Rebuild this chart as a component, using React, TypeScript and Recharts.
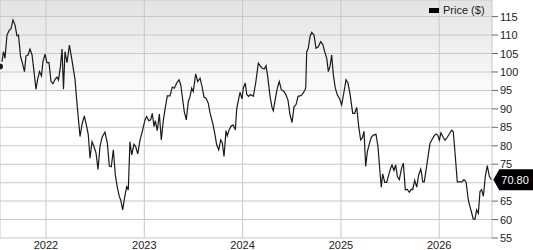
import React from "react";
import {
  LineChart,
  Line,
  XAxis,
  YAxis,
  ReferenceArea,
  ReferenceLine,
  ReferenceDot,
  Legend,
} from "recharts";

// time as decimal years
const dates = [
  2021.532, 2021.552, 2021.568, 2021.583, 2021.603, 2021.624, 2021.644, 2021.664, 2021.685, 2021.705,
  2021.72, 2021.741, 2021.756, 2021.781, 2021.796, 2021.817, 2021.837, 2021.858, 2021.878, 2021.898,
  2021.913, 2021.934, 2021.954, 2021.969, 2021.99, 2022.01, 2022.03, 2022.051, 2022.071, 2022.092,
  2022.112, 2022.127, 2022.147, 2022.163, 2022.178, 2022.193, 2022.214, 2022.238, 2022.261, 2022.295,
  2022.318, 2022.346, 2022.369, 2022.39, 2022.414, 2022.43, 2022.448, 2022.468, 2022.488, 2022.509,
  2022.529, 2022.549, 2022.57, 2022.6, 2022.624, 2022.644, 2022.664, 2022.685, 2022.705, 2022.725,
  2022.746, 2022.76, 2022.78, 2022.801, 2022.821, 2022.837, 2022.854, 2022.872, 2022.895, 2022.912,
  2022.933, 2022.956, 2022.974, 2023.007, 2023.024, 2023.045, 2023.065, 2023.081, 2023.099, 2023.112,
  2023.132, 2023.153, 2023.173, 2023.193, 2023.214, 2023.234, 2023.261, 2023.285, 2023.305, 2023.33,
  2023.353, 2023.37, 2023.391, 2023.407, 2023.427, 2023.448, 2023.465, 2023.482, 2023.498, 2023.523,
  2023.543, 2023.567, 2023.587, 2023.607, 2023.628, 2023.651, 2023.668, 2023.696, 2023.716, 2023.737,
  2023.757, 2023.777, 2023.793, 2023.811, 2023.831, 2023.844, 2023.865, 2023.885, 2023.905, 2023.926,
  2023.94, 2023.96, 2023.974, 2023.994, 2024.007, 2024.027, 2024.042, 2024.062, 2024.082, 2024.109,
  2024.133, 2024.16, 2024.177, 2024.2, 2024.221, 2024.238, 2024.255, 2024.279, 2024.299, 2024.312,
  2024.333, 2024.353, 2024.373, 2024.394, 2024.421, 2024.441, 2024.462, 2024.482, 2024.503, 2024.523,
  2024.543, 2024.564, 2024.584, 2024.604, 2024.625, 2024.642, 2024.652, 2024.668, 2024.686, 2024.703,
  2024.726, 2024.747, 2024.77, 2024.794, 2024.815, 2024.835, 2024.856, 2024.872, 2024.889, 2024.906,
  2024.923, 2024.943, 2024.963, 2024.984, 2025.008, 2025.032, 2025.052, 2025.072, 2025.093, 2025.12,
  2025.14, 2025.161, 2025.181, 2025.201, 2025.218, 2025.235, 2025.252, 2025.269, 2025.289, 2025.309,
  2025.33, 2025.357, 2025.377, 2025.398, 2025.411, 2025.425, 2025.446, 2025.466, 2025.486, 2025.507,
  2025.52, 2025.54, 2025.557, 2025.574, 2025.594, 2025.618, 2025.635, 2025.655, 2025.675, 2025.696,
  2025.716, 2025.73, 2025.751, 2025.771, 2025.791, 2025.812, 2025.822, 2025.832, 2025.848, 2025.866,
  2025.886, 2025.906, 2025.927, 2025.947, 2025.967, 2025.985, 2026.001, 2026.018, 2026.036, 2026.059,
  2026.082, 2026.103, 2026.127, 2026.143, 2026.164, 2026.184, 2026.204, 2026.229, 2026.252, 2026.273,
  2026.296, 2026.313, 2026.331, 2026.347, 2026.364, 2026.381, 2026.398, 2026.415, 2026.432, 2026.449,
  2026.469, 2026.489, 2026.51, 2026.53,
];

const prices = [
  101.5, 102.8, 105.5, 103.7, 110.0, 111.2, 111.7, 114.1, 112.7, 109.8,
  110.0, 104.2, 102.8, 100.1, 104.3, 104.6, 106.2, 104.6, 100.1, 95.3,
  97.8, 100.1, 98.9, 102.8, 104.8, 102.5, 102.6, 97.4, 96.8, 98.0,
  98.6, 97.8, 101.5, 106.2, 95.3, 105.5, 102.5, 107.3, 103.7, 98.0,
  90.6, 82.5, 86.1, 88.1, 85.2, 83.0, 76.6, 81.1, 79.8, 78.0,
  73.6, 79.8, 82.3, 83.7, 80.7, 74.5, 74.3, 78.9, 72.1, 68.8,
  66.2, 65.3, 62.6, 66.2, 68.9, 68.0, 81.1, 77.5, 80.4, 79.8,
  77.8, 81.5, 83.3, 87.0, 87.9, 86.8, 87.0, 88.8, 85.2, 86.8,
  84.1, 88.6, 81.6, 86.8, 90.4, 93.5, 93.5, 95.9, 95.6, 97.0,
  97.9, 96.6, 92.4, 89.2, 87.0, 92.0, 93.3, 95.6, 94.7, 99.5,
  97.4, 98.3, 96.1, 93.2, 92.9, 91.5, 89.0, 86.1, 83.4, 80.2,
  78.9, 81.6, 80.9, 77.1, 84.1, 82.7, 84.5, 85.4, 85.6, 84.3,
  90.0, 92.7, 94.5, 92.7, 95.6, 97.0, 93.9, 93.4, 93.9, 93.4,
  97.0, 102.4, 101.7, 101.0, 100.8, 101.7, 98.8, 93.4, 90.4, 89.5,
  92.7, 95.6, 97.4, 95.2, 94.7, 93.8, 92.3, 88.4, 86.3, 90.6,
  91.1, 93.4, 93.5, 93.8, 94.7, 95.6, 105.5, 106.4, 109.6, 110.7,
  110.0, 106.4, 106.8, 108.2, 107.5, 105.5, 103.7, 100.1, 101.5, 104.6,
  99.2, 95.6, 93.8, 92.9, 91.1, 94.7, 97.9, 97.0, 94.0, 88.8,
  88.8, 90.4, 85.2, 81.6, 82.1, 83.9, 74.4, 78.4, 80.5, 82.3,
  82.9, 83.1, 79.8, 72.6, 68.8, 72.4, 70.1, 70.1, 72.1, 74.0,
  74.8, 73.3, 74.8, 71.7, 70.8, 74.0, 75.3, 68.1, 68.2, 67.4,
  68.2, 68.1, 70.6, 68.8, 72.1, 73.7, 72.3, 70.2, 70.2, 73.4,
  77.0, 80.6, 81.7, 82.6, 83.2, 82.9, 81.5, 83.5, 82.5, 81.5,
  82.3, 83.2, 84.2, 83.8, 77.0, 70.2, 70.2, 70.2, 70.8, 70.2,
  65.3, 63.5, 61.7, 60.1, 60.1, 62.6, 61.7, 67.6, 68.1, 66.3,
  71.7, 74.6, 71.7, 70.8,
];

const yearTicks = [2022, 2023, 2024, 2025, 2026];
const priceTicks = [55, 60, 65, 70, 75, 80, 85, 90, 95, 100, 105, 110, 115];

const xDomain = [2021.532, 2026.537];
const yDomain = [55, 119.5];

const data = dates.map((t, i) => ({ t, price: prices[i] }));
const last = data[data.length - 1];

const GRID = "#c8c8c8";

// thin rules drawn as filled 1px strips
const Rule = ({ x1, y1, x2, y2 }) => {
  const horizontal = Math.abs(y2 - y1) < Math.abs(x2 - x1);
  const d = horizontal
    ? `M${Math.min(x1, x2)},${y1 - 0.5}H${Math.max(x1, x2)}V${y1 + 0.5}H${Math.min(x1, x2)}Z`
    : `M${x1 - 0.5},${Math.min(y1, y2)}V${Math.max(y1, y2)}H${x1 + 0.5}V${Math.min(y1, y2)}Z`;
  return <path d={d} fill={GRID} stroke="none" />;
};

const PriceTag = ({ cx, cy }) => {
  const x = cx + 2;
  return (
    <g>
      <path
        d={`M${x},${cy}L${x + 6},${cy - 10.5}L${x + 42},${cy - 10.5}L${x + 42},${cy + 10.5}L${x + 6},${cy + 10.5}Z`}
        fill="#000"
      />
      <text x={x + 8} y={cy + 4} fill="#fff" fontSize={11}>
        {last.price.toFixed(2)}
      </text>
    </g>
  );
};

// the price tag hides the axis label it sits on
const PriceTick = ({ x, y, payload }) => {
  if (Math.abs(payload.value - last.price) < 2.5) return null;
  return (
    <g>
      <path d={`M${x - 8},${y - 0.5}h6v1h-6Z`} fill="#666" />
      <text x={x} y={y} dy={4} fontSize={11} fill="#222" textAnchor="start">
        {payload.value}
      </text>
    </g>
  );
};

const LegendBox = () => (
  <div style={{ display: "flex", alignItems: "center", fontSize: 11, color: "#222" }}>
    <span style={{ width: 10, height: 5, background: "#000", marginRight: 4 }} />
    <span>Price ($)</span>
  </div>
);

export default function App() {
  return (
    <div
      style={{
        position: "absolute",
        left: 0,
        top: 0,
        fontFamily: "'Liberation Sans', Arial, sans-serif",
      }}
    >
      <svg width={0} height={0} style={{ position: "absolute" }}>
        <defs>
          <linearGradient id="plotBg" x1="0" y1="0" x2="0" y2="1">
            <stop offset="0%" stopColor="#000" stopOpacity={0.11} />
            <stop offset="45%" stopColor="#000" stopOpacity={0} />
            <stop offset="100%" stopColor="#000" stopOpacity={0} />
          </linearGradient>
        </defs>
      </svg>
      <LineChart
        width={533}
        height={250}
        data={data}
        margin={{ top: 0, right: 0, bottom: 0, left: 0 }}
      >
        <XAxis
          dataKey="t"
          type="number"
          domain={xDomain}
          ticks={yearTicks}
          interval={0}
          tickFormatter={(v) => String(v)}
          axisLine={false}
          tickLine={false}
          tickSize={2}
          tickMargin={1}
          height={12}
          tick={{ fontSize: 11, fill: "#222" }}
        />
        <YAxis
          orientation="right"
          type="number"
          domain={yDomain}
          ticks={priceTicks}
          interval={0}
          width={41}
          axisLine={false}
          tickLine={false}
          tickSize={6}
          tickMargin={2}
          tick={PriceTick}
        />
        <ReferenceArea
          x1={xDomain[0]}
          x2={xDomain[1]}
          y1={yDomain[0]}
          y2={yDomain[1]}
          fill="url(#plotBg)"
          fillOpacity={1}
          stroke="none"
          ifOverflow="visible"
        />
        {priceTicks.map((v) => (
          <ReferenceLine key={`h${v}`} y={v} shape={Rule} ifOverflow="visible" />
        ))}
        {yearTicks.map((v) => (
          <ReferenceLine key={`v${v}`} x={v} shape={Rule} ifOverflow="visible" />
        ))}
        <ReferenceLine y={yDomain[1]} shape={Rule} ifOverflow="visible" />
        <ReferenceLine x={xDomain[0]} shape={Rule} ifOverflow="visible" />
        <ReferenceLine x={xDomain[1]} shape={Rule} ifOverflow="visible" />
        <Legend
          layout="horizontal"
          verticalAlign="middle"
          align="center"
          wrapperStyle={{ top: 4, left: 429, width: 60 }}
          content={LegendBox}
        />
        <Line
          dataKey="price"
          name="Price ($)"
          type="linear"
          stroke="#1a1a1a"
          strokeWidth={1.2}
          dot={false}
          isAnimationActive={false}
        />
        <ReferenceDot x={last.t} y={last.price} shape={PriceTag} ifOverflow="visible" />
      </LineChart>
    </div>
  );
}
